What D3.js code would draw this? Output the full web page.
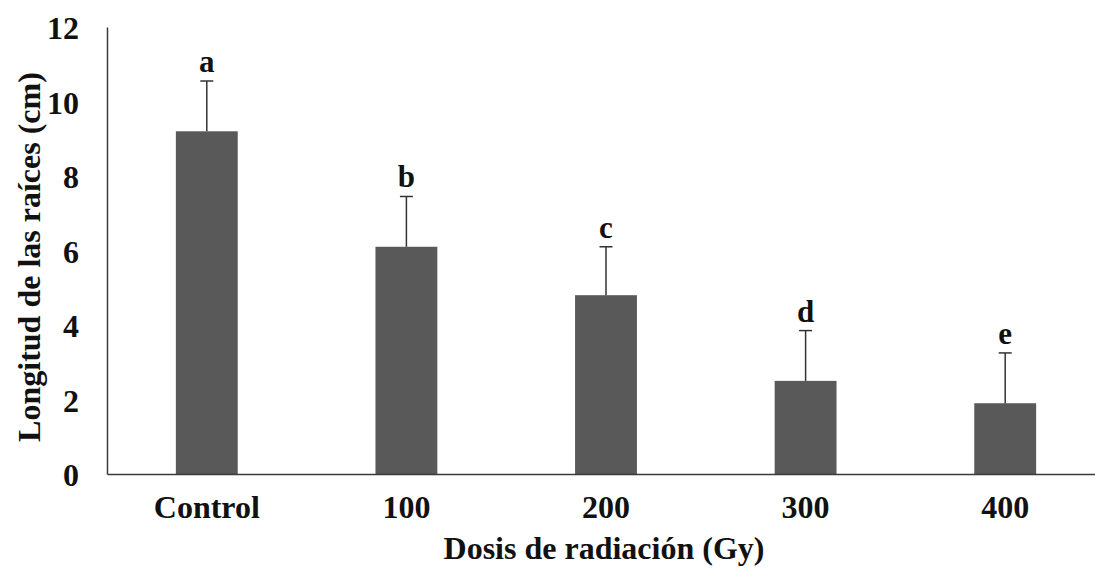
<!DOCTYPE html>
<html>
<head>
<meta charset="utf-8">
<script src="https://cdn.jsdelivr.net/npm/d3@7"></script>
<style>
    body { margin: 0; background: #fff; }
    text { font-family: "Liberation Serif", "Times New Roman", serif; font-weight: bold; fill: #111; }
</style>
</head>
<body>
<div id="chart"></div>
<script>

// data
const doses = ["Control", "100", "200", "300", "400"];
const meanLength = [9.2, 6.1, 4.8, 2.5, 1.9];
const errUpper = [10.55, 7.45, 6.1, 3.85, 3.25];
const groupLetters = ["a", "b", "c", "d", "e"];
const yTicks = [0, 2, 4, 6, 8, 10, 12];

const width = 1095, height = 571;
const margin = {top: 27, right: -10, bottom: 97, left: 107};
const innerW = width - margin.left - margin.right;
const innerH = height - margin.top - margin.bottom;

const svg = d3.select("#chart").append("svg")
    .attr("width", width)
    .attr("height", height);

const g = svg.append("g")
    .attr("transform", "translate(" + margin.left + "," + margin.top + ")");

// scales
const x = d3.scaleBand()
    .domain(doses)
    .range([0, innerW])
    .paddingInner(0.69)
    .paddingOuter(0.345);

const y = d3.scaleLinear()
    .domain([0, 12])
    .range([innerH, 0]);

// bars
g.selectAll(".bar")
    .data(doses)
    .enter().append("rect")
    .attr("class", "bar")
    .attr("x", d => x(d))
    .attr("y", (d, i) => y(meanLength[i]))
    .attr("width", x.bandwidth())
    .attr("height", (d, i) => innerH - y(meanLength[i]))
    .attr("fill", "#595959");

// error bars (upper only)
const cx = d => x(d) + x.bandwidth() / 2;

g.selectAll(".err")
    .data(doses)
    .enter().append("line")
    .attr("x1", cx)
    .attr("x2", cx)
    .attr("y1", (d, i) => y(meanLength[i]))
    .attr("y2", (d, i) => y(errUpper[i]))
    .attr("stroke", "#333")
    .attr("stroke-width", 1.5);

g.selectAll(".cap")
    .data(doses)
    .enter().append("line")
    .attr("x1", d => cx(d) - 6.5)
    .attr("x2", d => cx(d) + 6.5)
    .attr("y1", (d, i) => y(errUpper[i]))
    .attr("y2", (d, i) => y(errUpper[i]))
    .attr("stroke", "#333")
    .attr("stroke-width", 1.5);

// significance letters
g.selectAll(".letter")
    .data(doses)
    .enter().append("text")
    .attr("x", cx)
    .attr("y", (d, i) => y(errUpper[i]) - 9)
    .attr("text-anchor", "middle")
    .style("font-size", "31px")
    .text((d, i) => groupLetters[i]);

// axes
const yAxis = d3.axisLeft(y).tickValues(yTicks).tickSize(0).tickPadding(28);
const yAxisGroup = g.append("g").attr("class", "axis y-axis").call(yAxis);
yAxisGroup.select(".domain").attr("stroke", "#3a3a3a").attr("stroke-width", 1.5);
yAxisGroup.selectAll("text").style("font-size", "32px").attr("dy", "0.36em");

const xAxis = d3.axisBottom(x).tickSize(0).tickPadding(22);
const xAxisGroup = g.append("g")
    .attr("class", "axis x-axis")
    .attr("transform", "translate(0," + innerH + ")")
    .call(xAxis);
xAxisGroup.select(".domain").attr("stroke", "#3a3a3a").attr("stroke-width", 1.5);
xAxisGroup.selectAll("text").style("font-size", "32px").attr("dy", "0.7em");

// axis titles
svg.append("text")
    .attr("text-anchor", "middle")
    .attr("x", 604)
    .attr("y", 559)
    .style("font-size", "32px")
    .text("Dosis de radiación (Gy)");

svg.append("text")
    .attr("text-anchor", "middle")
    .attr("transform", "translate(40,257) rotate(-90)")
    .style("font-size", "32px")
    .text("Longitud de las raíces (cm)");

</script>
</body>
</html>
